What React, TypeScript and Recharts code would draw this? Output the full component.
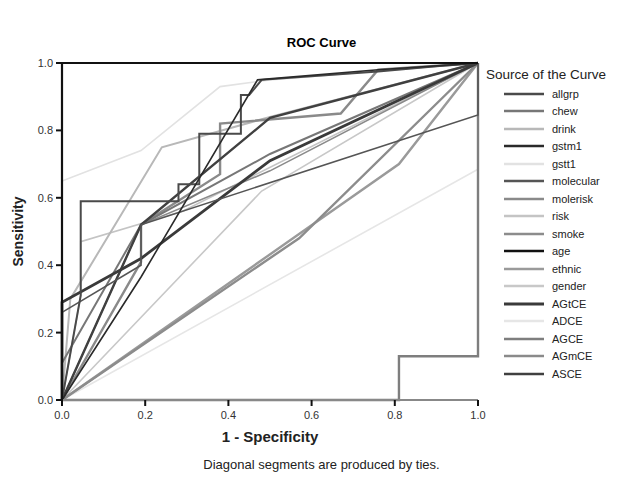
import React from "react";
import { LineChart, Line, XAxis, YAxis, Label } from "recharts";

type Pt = { x: number; y: number };
const mk = (xs: number[], ys: number[]): Pt[] => xs.map((x, i) => ({ x, y: ys[i] }));

const allgrpX = [0, 0.045, 0.045, 0.28, 0.28, 0.33, 0.33, 0.43, 0.43, 0.45, 0.48, 0.76, 0.9, 1];
const allgrpY = [0, 0.31, 0.59, 0.59, 0.64, 0.64, 0.79, 0.79, 0.905, 0.905, 0.95, 0.975, 0.99, 1];
const chewX = [0, 0, 0.19, 0.5, 1];
const chewY = [0, 0.11, 0.52, 0.73, 1];
const drinkX = [0, 0.02, 0.24, 0.5, 1];
const drinkY = [0, 0.3, 0.75, 0.84, 1];
const gstm1X = [0, 0.19, 0.47, 0.76, 1];
const gstm1Y = [0, 0.365, 0.95, 0.98, 1];
const gstt1X = [0, 0, 0.19, 0.38, 0.5, 1];
const gstt1Y = [0, 0.65, 0.74, 0.93, 0.95, 1];
const molecularX = [0, 0, 0.19, 0.19, 1, 1];
const molecularY = [0, 0.26, 0.4, 0.52, 0.846, 1];
const moleriskX = [0, 0.19, 0.19, 0.38, 0.38, 0.67, 0.76, 1];
const moleriskY = [0, 0.41, 0.52, 0.67, 0.82, 0.85, 0.98, 1];
const riskX = [0, 0.045, 0.045, 0.29, 1];
const riskY = [0, 0.31, 0.47, 0.56, 1];
const smokeX = [0, 0.57, 1];
const smokeY = [0, 0.48, 1];
const ageX = [0, 0, 1];
const ageY = [0, 1, 1];
const ethnicX = [0, 0.81, 1];
const ethnicY = [0, 0.7, 1];
const genderX = [0, 0.48, 1];
const genderY = [0, 0.62, 1];
const agtceX = [0, 0, 0.19, 0.5, 1];
const agtceY = [0, 0.29, 0.42, 0.71, 1];
const adceX = [0, 1, 1];
const adceY = [0, 0.685, 1];
const agceX = [0, 0.81, 0.81, 1, 1];
const agceY = [0, 0, 0.13, 0.13, 1];
const agmceX = [0, 0.19, 0.5, 1];
const agmceY = [0, 0.52, 0.68, 1];
const asceX = [0, 0.19, 0.5, 1];
const asceY = [0, 0.52, 0.837, 1];

const seriesNames = ["allgrp", "chew", "drink", "gstm1", "gstt1", "molecular", "molerisk", "risk", "smoke", "age", "ethnic", "gender", "AGtCE", "ADCE", "AGCE", "AGmCE", "ASCE"];
const seriesColors = ["#4a4a4a", "#777777", "#b8b8b8", "#2a2a2a", "#e2e2e2", "#555555", "#8a8a8a", "#c4c4c4", "#8c8c8c", "#111111", "#9a9a9a", "#c8c8c8", "#3a3a3a", "#e6e6e6", "#7e7e7e", "#8a8a8a", "#404040"];
const seriesWidths = [2, 2, 2, 1.6, 1.6, 1.6, 2.4, 1.6, 2.4, 2.2, 2.4, 1.6, 2.8, 1.6, 2.4, 1.6, 2.4];
const seriesData: Pt[][] = [
  mk(allgrpX, allgrpY), mk(chewX, chewY), mk(drinkX, drinkY), mk(gstm1X, gstm1Y), mk(gstt1X, gstt1Y),
  mk(molecularX, molecularY), mk(moleriskX, moleriskY), mk(riskX, riskY), mk(smokeX, smokeY), mk(ageX, ageY),
  mk(ethnicX, ethnicY), mk(genderX, genderY), mk(agtceX, agtceY), mk(adceX, adceY), mk(agceX, agceY),
  mk(agmceX, agmceY), mk(asceX, asceY),
];
const axisTicks = [0, 0.2, 0.4, 0.6, 0.8, 1];
const drawOrder = [13, 4, 11, 7, 2, 10, 8, 14, 15, 6, 1, 16, 12, 5, 0, 3, 9];

const FONT = "'Liberation Sans', Arial, sans-serif";

const LegendBox = () => (
  <div style={{ fontFamily: FONT, color: "#222" }}>
    <div style={{ fontSize: 13.5, marginBottom: 3, whiteSpace: "nowrap" }}>Source of the Curve</div>
    {seriesNames.map((n, i) => (
      <div key={n} style={{ display: "flex", alignItems: "center", height: 17.5 }}>
        <svg width={42} height={8} style={{ marginLeft: 18 }}>
          <line x1={0} y1={4} x2={40} y2={4} stroke={seriesColors[i]} strokeWidth={Math.max(2.4, seriesWidths[i])} />
        </svg>
        <span style={{ fontSize: 11, marginLeft: 6 }}>{n}</span>
      </div>
    ))}
  </div>
);

export default function App() {
  return (
    <div style={{ position: "absolute", left: 0, top: 0, width: 643, height: 478, background: "#fff" }}>
      <div style={{ position: "absolute", left: 0, top: 35, width: 643, textAlign: "center", fontFamily: FONT, fontWeight: "bold", fontSize: 13 }}>
        ROC Curve
      </div>
      <div style={{ position: "absolute", left: 0, top: 457, width: 643, textAlign: "center", fontFamily: FONT, fontSize: 13, color: "#222" }}>
        Diagonal segments are produced by ties.
      </div>
      <div style={{ position: "absolute", left: 486, top: 67, width: 157 }}>
        <LegendBox />
      </div>
      <div style={{ position: "absolute", left: 0, top: 0 }}>
        <LineChart width={643} height={478} margin={{ top: 63, right: 165, bottom: 48, left: 22 }}>
          <XAxis
            type="number"
            dataKey="x"
            domain={[0, 1]}
            ticks={axisTicks}
            tickFormatter={(v: number) => v.toFixed(1)}
            axisLine={{ stroke: "#888", strokeWidth: 2 }}
            tickLine={{ stroke: "#111", strokeWidth: 2 }}
            tickSize={6}
            tickMargin={5}
            tick={{ fontSize: 11, fill: "#333", fontFamily: FONT }}
            height={30}
            allowDuplicatedCategory={false}
          >
            <Label value="1 - Specificity" position="insideBottom" offset={-12} style={{ fontSize: 15, fontWeight: "bold", fill: "#222", fontFamily: FONT }} />
          </XAxis>
          <YAxis
            type="number"
            dataKey="y"
            domain={[0, 1]}
            ticks={axisTicks}
            tickFormatter={(v: number) => v.toFixed(1)}
            axisLine={{ stroke: "#111", strokeWidth: 2 }}
            tickLine={{ stroke: "#111", strokeWidth: 2 }}
            tickSize={6}
            tickMargin={3}
            tick={{ fontSize: 11, fill: "#333", fontFamily: FONT }}
            width={40}
          >
            <Label value="Sensitivity" angle={-90} position="insideLeft" offset={-4} style={{ fontSize: 14, fontWeight: "bold", fill: "#222", fontFamily: FONT, textAnchor: "middle" }} />
          </YAxis>
          {drawOrder.map((i) => (
            <Line
              key={seriesNames[i]}
              name={seriesNames[i]}
              data={seriesData[i]}
              dataKey="y"
              type="linear"
              stroke={seriesColors[i]}
              strokeWidth={seriesWidths[i]}
              dot={false}
              activeDot={false}
              isAnimationActive={false}
            />
          ))}
        </LineChart>
      </div>
    </div>
  );
}
